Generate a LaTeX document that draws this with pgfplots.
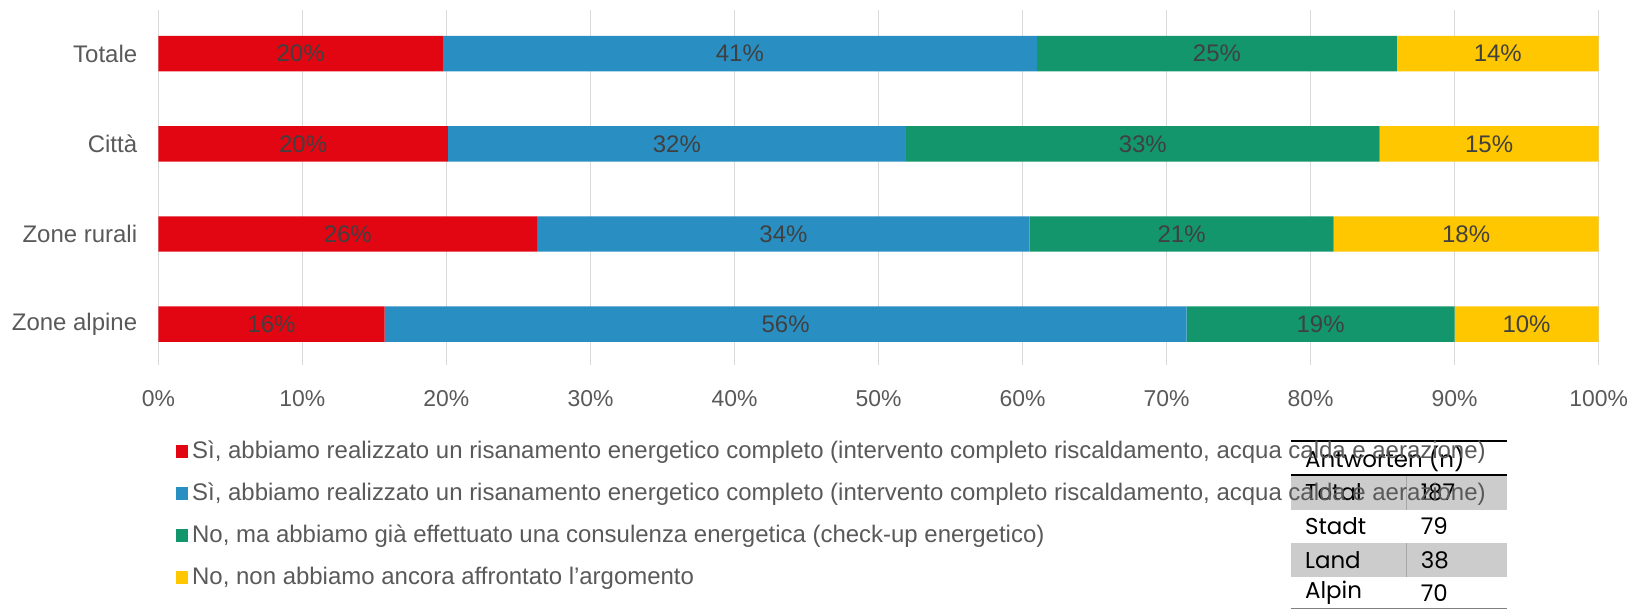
\documentclass[border=0pt]{standalone}
\usepackage{pgfplots}
\pgfplotsset{compat=1.18}
\usepackage{pgfplotstable}
\usepackage{fontspec}
\setmainfont{Liberation Sans}
\newfontfamily\tabfont{Poppins}
\definecolor{cred}{RGB}{226,6,19}
\definecolor{cblue}{RGB}{41,143,195}
\definecolor{cgreen}{RGB}{19,150,108}
\definecolor{cyellow}{RGB}{255,199,0}
\definecolor{ticktext}{RGB}{89,89,89}
\definecolor{labeltext}{RGB}{64,64,64}
\definecolor{gridc}{RGB}{217,217,217}
\definecolor{rowgray}{RGB}{204,204,204}

\pgfplotstableread{
y red blue green yellow
0 19.75 41.25 25.0 14.0
1 20.1 31.8 32.9 15.2
2 26.3 34.2 21.1 18.4
3 15.7 55.7 18.6 10.0
}\data

\begin{document}
\begin{tikzpicture}[x=1pt,y=1pt]
\path[use as bounding box] (0pt,0pt) rectangle (784pt,292.5pt);
% table of answers
\fill[rowgray] (619.5pt,48pt) rectangle (723pt,64.5pt);
\fill[rowgray] (619.5pt,15.5pt) rectangle (723pt,32pt);
\draw[black!35, line width=0.5pt] (675pt,48pt) -- (675pt,64.5pt);
\draw[black!35, line width=0.5pt] (675pt,15.5pt) -- (675pt,32pt);
\draw[black, line width=1pt] (619.5pt,81pt) -- (723pt,81pt);
\draw[black, line width=1pt] (619.5pt,64.5pt) -- (723pt,64.5pt);
\draw[black!50, line width=0.6pt] (619.5pt,0.6pt) -- (723pt,0.6pt);
\begin{scope}[every node/.style={anchor=west, inner sep=0pt, font=\tabfont\fontsize{11}{13}\selectfont}]
\node at (626pt,72.5pt) {Antworten (n)};
\node at (626pt,56.25pt) {Total};
\node at (681.5pt,56.25pt) {187};
\node at (626pt,40pt) {Stadt};
\node at (681.5pt,40pt) {79};
\node at (626pt,23.75pt) {Land};
\node at (681.5pt,23.75pt) {38};
\node at (626pt,8pt) {Alpin};
\node at (681.5pt,8pt) {70};
\end{scope}
\begin{axis}[
  at={(76pt,117.5pt)}, anchor=south west,
  scale only axis, width=691pt, height=170pt,
  xbar stacked, bar width=17pt,
  xmin=0, xmax=100, ymin=-0.48, ymax=3.45, y dir=reverse,
  ytick={0,1,2,3}, yticklabels={Totale,Città,Zone rurali,Zone alpine},
  xtick={0,10,...,100},
  xticklabel={\pgfmathprintnumber{\tick}\%},
  /pgf/number format/assume math mode=true,
  xmajorgrids, ymajorgrids=false,
  major grid style={gridc, line width=0.8pt},
  axis line style={draw=none},
  major tick length=0pt,
  tick label style={text=ticktext},
  yticklabel style={inner sep=0pt, xshift=-10pt, font=\fontsize{11.5}{13.5}\selectfont},
  xticklabel style={inner sep=0pt, yshift=-12pt, font=\fontsize{11}{13}\selectfont},
  point meta=explicit symbolic,
  nodes near coords={\pgfmathprintnumber[fixed,precision=0]{\pgfplotspointmeta}\%},
  nodes near coords style={font=\fontsize{11.5}{13.5}\selectfont, text=labeltext, anchor=center},
  legend image code/.code={\fill[#1] (0pt,-3pt) rectangle (6pt,3pt);},
  legend style={at={(0.0116,-0.203)}, anchor=north west, draw=none, fill=none,
    inner sep=0pt, row sep=6.2pt, font=\fontsize{11.5}{13.8}\selectfont, text=ticktext},
  legend cell align=left,
]
\addplot[fill=cred, draw=none] table[x=red, y=y, meta=red] {\data};
\addlegendentry{Sì, abbiamo realizzato un risanamento energetico completo (intervento completo riscaldamento, acqua calda e aerazione)}
\addplot[fill=cblue, draw=none] table[x=blue, y=y, meta=blue] {\data};
\addlegendentry{Sì, abbiamo realizzato un risanamento energetico completo (intervento completo riscaldamento, acqua calda e aerazione)}
\addplot[fill=cgreen, draw=none] table[x=green, y=y, meta=green] {\data};
\addlegendentry{No, ma abbiamo già effettuato una consulenza energetica (check-up energetico)}
\addplot[fill=cyellow, draw=none] table[x=yellow, y=y, meta=yellow] {\data};
\addlegendentry{No, non abbiamo ancora affrontato l’argomento}
\end{axis}
\end{tikzpicture}
\end{document}
